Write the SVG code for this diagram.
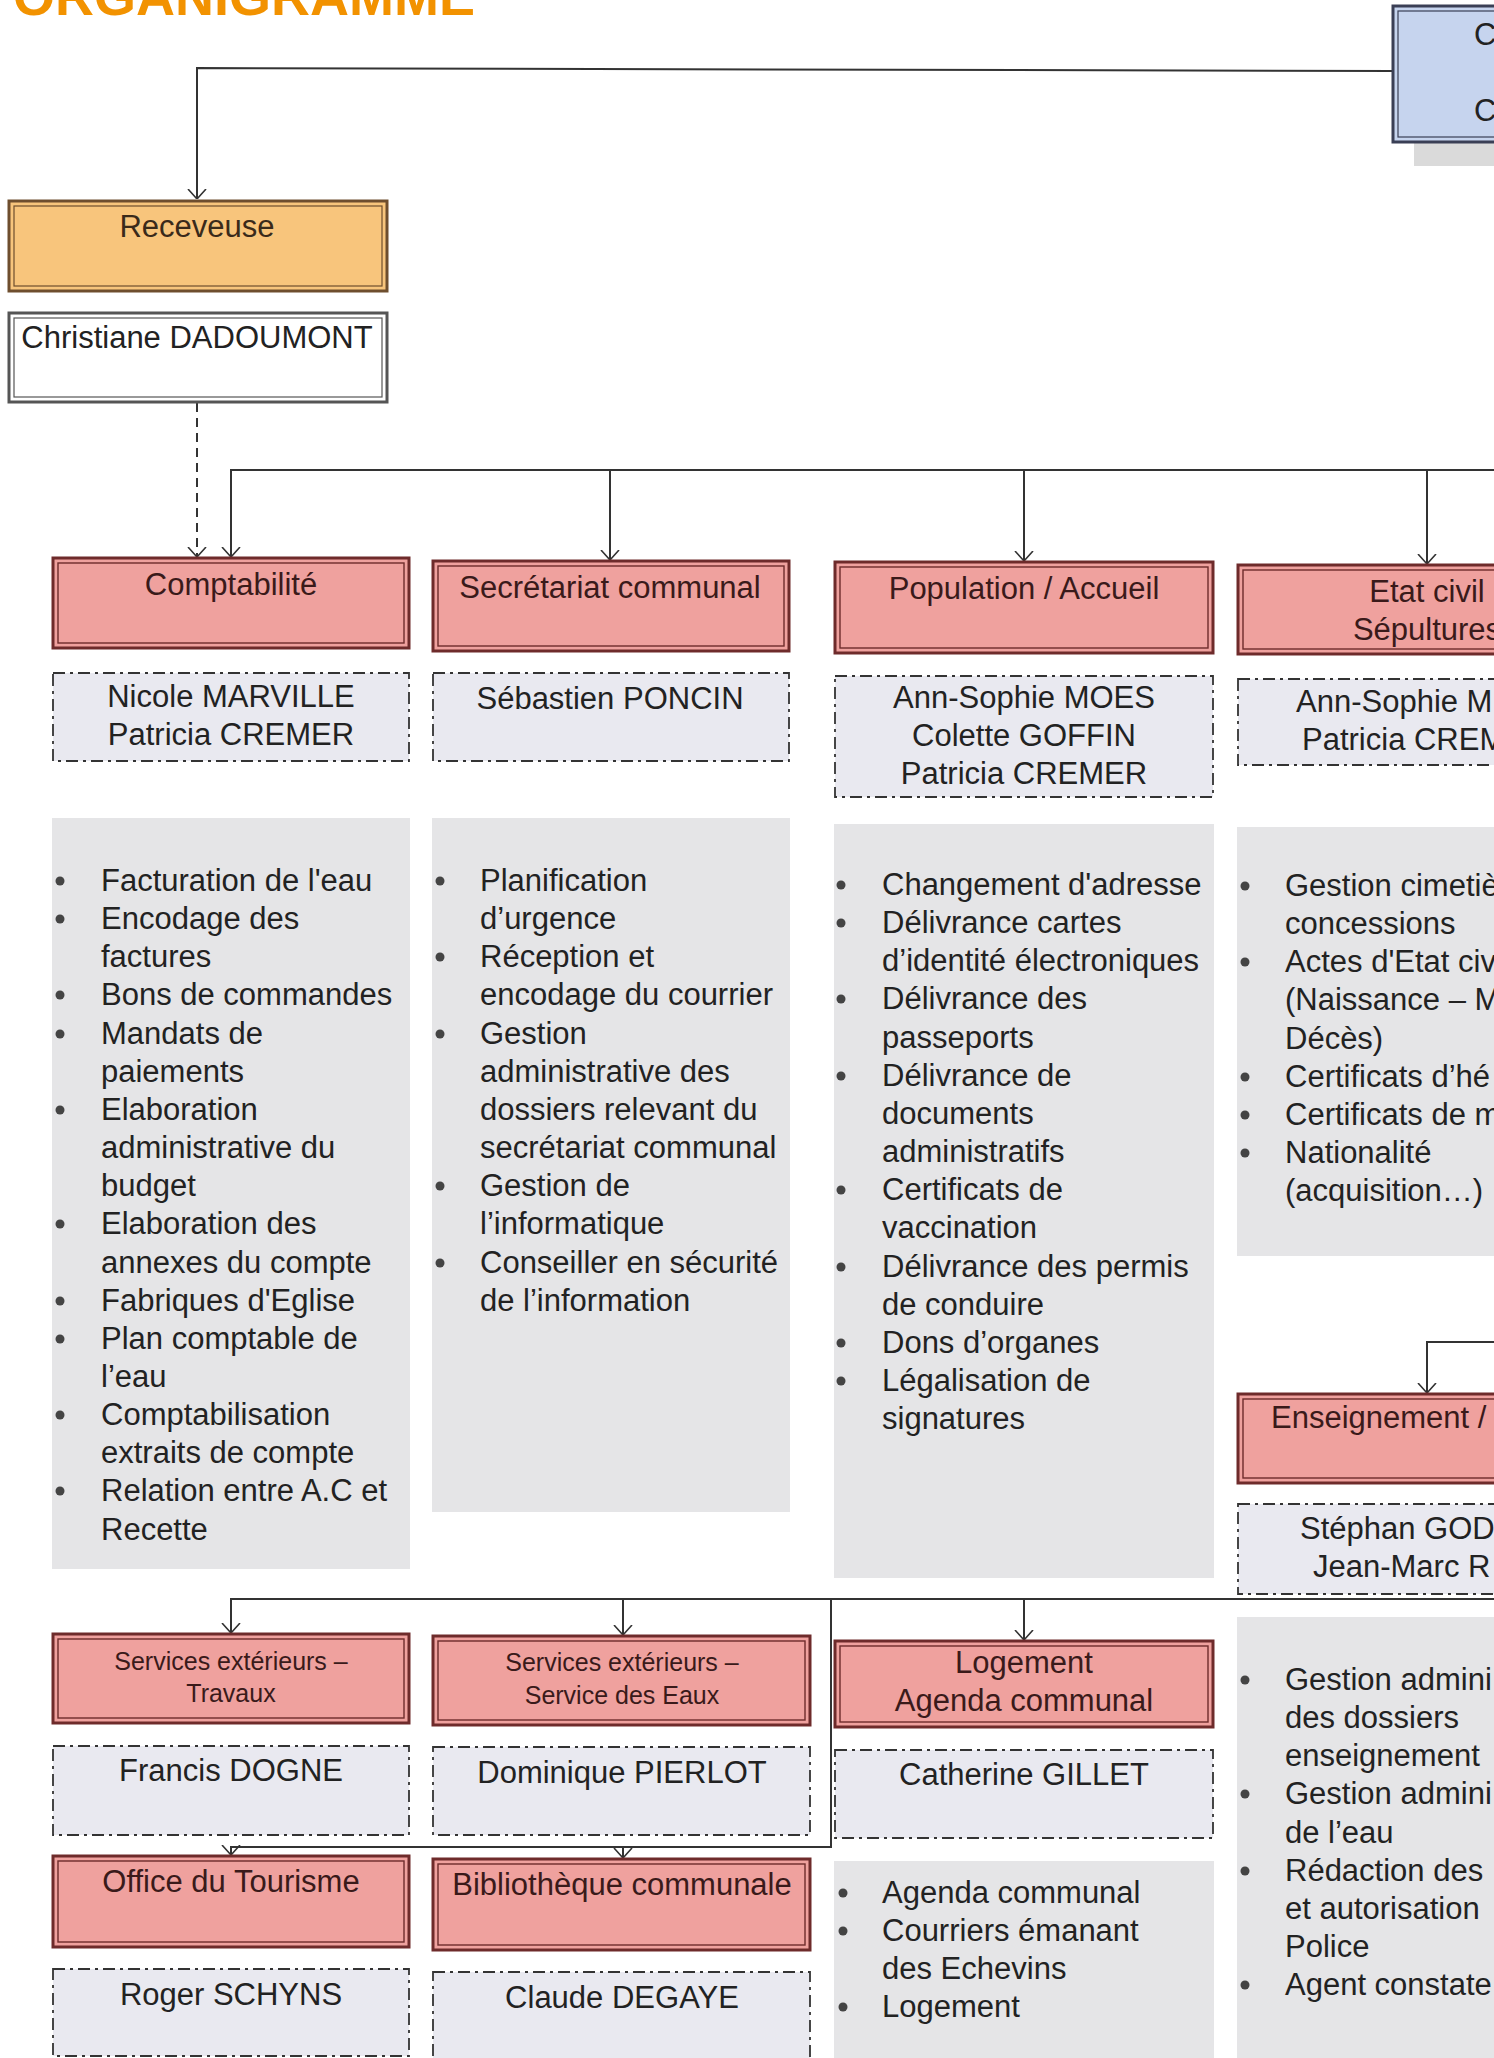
<svg xmlns="http://www.w3.org/2000/svg" width="1494" height="2058" viewBox="0 0 1494 2058">
<defs>
<marker id="arr" viewBox="0 0 10 20" markerWidth="10" markerHeight="20" refX="10" refY="10" orient="auto" markerUnits="userSpaceOnUse">
<path d="M0,1 L10,10 L0,19" fill="none" stroke="#333" stroke-width="1.6"/>
</marker>
<style>
.t{font-family:"Liberation Sans",Arial,sans-serif;fill:#222}
.c{text-anchor:middle}
.h{font-size:31px;fill:#3a1a1a}
.n{font-size:31px}
.l{font-size:31px}
.s{font-size:25px;fill:#3a1a1a}
.ho{fill:#EFA19E;stroke:#6E2B2B;stroke-width:3}
.hi{fill:none;stroke:#6E2B2B;stroke-width:1.4}
.nb{fill:#E9E9F0;stroke:#333;stroke-width:1.8;stroke-dasharray:12 5 3 5}
.lp{fill:#E5E5E7}
.bu{fill:#444}
.cn{fill:none;stroke:#333;stroke-width:2}
</style>
</defs>
<rect width="1494" height="2058" fill="#fff"/>
<text x="13" y="15" style="font-family:'Liberation Sans',Arial,sans-serif;font-weight:bold;font-size:54px;fill:#F29200">ORGANIGRAMME</text>

<g id="connectors">
<polyline class="cn" points="1394,71 197,68 197,199" marker-end="url(#arr)"/>
<line class="cn" x1="197" y1="403" x2="197" y2="557" stroke-dasharray="9 6" marker-end="url(#arr)"/>
<polyline class="cn" points="1494,470 231,470 231,557" marker-end="url(#arr)"/>
<line class="cn" x1="610" y1="470" x2="610" y2="560" marker-end="url(#arr)"/>
<line class="cn" x1="1024" y1="470" x2="1024" y2="561" marker-end="url(#arr)"/>
<line class="cn" x1="1427" y1="470" x2="1427" y2="564" marker-end="url(#arr)"/>
<polyline class="cn" points="1494,1342 1427,1342 1427,1393" marker-end="url(#arr)"/>
<polyline class="cn" points="1494,1599 231,1599 231,1633" marker-end="url(#arr)"/>
<line class="cn" x1="623" y1="1599" x2="623" y2="1635" marker-end="url(#arr)"/>
<line class="cn" x1="1024" y1="1599" x2="1024" y2="1640" marker-end="url(#arr)"/>
<polyline class="cn" points="831,1599 831,1847 231,1847 231,1855" marker-end="url(#arr)"/>
<line class="cn" x1="623" y1="1847" x2="623" y2="1858" marker-end="url(#arr)"/>
</g>

<g id="college">
<rect x="1414" y="28" width="90" height="138" fill="#DADADA"/>
<rect x="1393" y="6" width="110" height="136" fill="#C6D4EE" stroke="#3A3F55" stroke-width="3"/>
<rect x="1398" y="11" width="100" height="126" fill="none" stroke="#3A3F55" stroke-width="1.2"/>
<text class="t n" x="1474" y="45">C</text>
<text class="t n" x="1474" y="121">C</text>
</g>

<g id="receveuse">
<rect x="9" y="201" width="378" height="90" fill="#F8C57C" stroke="#6E4E2E" stroke-width="3"/>
<rect x="14" y="206" width="368" height="80" fill="none" stroke="#6E4E2E" stroke-width="1.2"/>
<text class="t h c" x="197" y="237" style="fill:#3a2a1a">Receveuse</text>
</g>
<g id="receveuse-nom">
<rect x="9" y="313" width="378" height="89" fill="#fff" stroke="#555" stroke-width="3"/>
<rect x="14" y="318" width="368" height="79" fill="none" stroke="#555" stroke-width="1.2"/>
<text class="t n c" x="197" y="348">Christiane DADOUMONT</text>
</g>

<g id="comptabilite">
<rect class="ho" x="53" y="558" width="356" height="90"/>
<rect class="hi" x="58" y="563" width="346" height="80"/>
<text class="t h c" x="231" y="595">Comptabilité</text>
<rect class="nb" x="53" y="673" width="356" height="88"/>
<text class="t n c" x="231" y="707">Nicole MARVILLE</text>
<text class="t n c" x="231" y="745">Patricia CREMER</text>
<rect class="lp" x="52" y="818" width="358" height="751"/>
<g class="t l">
<text x="101" y="891">Facturation de l'eau</text>
<text x="101" y="929">Encodage des</text>
<text x="101" y="967">factures</text>
<text x="101" y="1005">Bons de commandes</text>
<text x="101" y="1044">Mandats de</text>
<text x="101" y="1082">paiements</text>
<text x="101" y="1120">Elaboration</text>
<text x="101" y="1158">administrative du</text>
<text x="101" y="1196">budget</text>
<text x="101" y="1234">Elaboration des</text>
<text x="101" y="1273">annexes du compte</text>
<text x="101" y="1311">Fabriques d'Eglise</text>
<text x="101" y="1349">Plan comptable de</text>
<text x="101" y="1387">l’eau</text>
<text x="101" y="1425">Comptabilisation</text>
<text x="101" y="1463">extraits de compte</text>
<text x="101" y="1501">Relation entre A.C et</text>
<text x="101" y="1540">Recette</text>
</g>
<g class="bu">
<circle cx="60" cy="881" r="4.5"/><circle cx="60" cy="919" r="4.5"/><circle cx="60" cy="995" r="4.5"/><circle cx="60" cy="1034" r="4.5"/><circle cx="60" cy="1110" r="4.5"/><circle cx="60" cy="1224" r="4.5"/><circle cx="60" cy="1301" r="4.5"/><circle cx="60" cy="1339" r="4.5"/><circle cx="60" cy="1415" r="4.5"/><circle cx="60" cy="1491" r="4.5"/>
</g>
</g>

<g id="secretariat">
<rect class="ho" x="433" y="561" width="356" height="90"/>
<rect class="hi" x="438" y="566" width="346" height="80"/>
<text class="t h c" x="610" y="598">Secrétariat communal</text>
<rect class="nb" x="433" y="673" width="356" height="88"/>
<text class="t n c" x="610" y="709">Sébastien PONCIN</text>
<rect class="lp" x="432" y="818" width="358" height="694"/>
<g class="t l">
<text x="480" y="891">Planification</text>
<text x="480" y="929">d’urgence</text>
<text x="480" y="967">Réception et</text>
<text x="480" y="1005">encodage du courrier</text>
<text x="480" y="1044">Gestion</text>
<text x="480" y="1082">administrative des</text>
<text x="480" y="1120">dossiers relevant du</text>
<text x="480" y="1158">secrétariat communal</text>
<text x="480" y="1196">Gestion de</text>
<text x="480" y="1234">l’informatique</text>
<text x="480" y="1273">Conseiller en sécurité</text>
<text x="480" y="1311">de l’information</text>
</g>
<g class="bu">
<circle cx="440" cy="881" r="4.5"/><circle cx="440" cy="957" r="4.5"/><circle cx="440" cy="1034" r="4.5"/><circle cx="440" cy="1186" r="4.5"/><circle cx="440" cy="1263" r="4.5"/>
</g>
</g>

<g id="population">
<rect class="ho" x="835" y="562" width="378" height="91"/>
<rect class="hi" x="840" y="567" width="368" height="81"/>
<text class="t h c" x="1024" y="599">Population / Accueil</text>
<rect class="nb" x="835" y="676" width="378" height="121"/>
<text class="t n c" x="1024" y="708">Ann-Sophie MOES</text>
<text class="t n c" x="1024" y="746">Colette GOFFIN</text>
<text class="t n c" x="1024" y="784">Patricia CREMER</text>
<rect class="lp" x="834" y="824" width="380" height="754"/>
<g class="t l">
<text x="882" y="895">Changement d'adresse</text>
<text x="882" y="933">Délivrance cartes</text>
<text x="882" y="971">d’identité électroniques</text>
<text x="882" y="1009">Délivrance des</text>
<text x="882" y="1048">passeports</text>
<text x="882" y="1086">Délivrance de</text>
<text x="882" y="1124">documents</text>
<text x="882" y="1162">administratifs</text>
<text x="882" y="1200">Certificats de</text>
<text x="882" y="1238">vaccination</text>
<text x="882" y="1277">Délivrance des permis</text>
<text x="882" y="1315">de conduire</text>
<text x="882" y="1353">Dons d’organes</text>
<text x="882" y="1391">Légalisation de</text>
<text x="882" y="1429">signatures</text>
</g>
<g class="bu">
<circle cx="841" cy="885" r="4.5"/><circle cx="841" cy="923" r="4.5"/><circle cx="841" cy="999" r="4.5"/><circle cx="841" cy="1076" r="4.5"/><circle cx="841" cy="1190" r="4.5"/><circle cx="841" cy="1267" r="4.5"/><circle cx="841" cy="1343" r="4.5"/><circle cx="841" cy="1381" r="4.5"/>
</g>
</g>

<g id="etat-civil">
<rect class="ho" x="1238" y="565" width="270" height="89"/>
<rect class="hi" x="1243" y="570" width="260" height="79"/>
<text class="t h c" x="1427" y="602">Etat civil</text>
<text class="t h c" x="1427" y="640">Sépultures</text>
<rect class="nb" x="1238" y="679" width="270" height="86"/>
<text class="t n" x="1296" y="712">Ann-Sophie M</text>
<text class="t n" x="1302" y="750">Patricia CREM</text>
<rect class="lp" x="1237" y="827" width="257" height="429"/>
<g class="t l">
<text x="1285" y="896">Gestion cimetiè</text>
<text x="1285" y="934">concessions</text>
<text x="1285" y="972">Actes d'Etat civ</text>
<text x="1285" y="1010">(Naissance – M</text>
<text x="1285" y="1049">Décès)</text>
<text x="1285" y="1087">Certificats d’hé</text>
<text x="1285" y="1125">Certificats de m</text>
<text x="1285" y="1163">Nationalité</text>
<text x="1285" y="1201">(acquisition…)</text>
</g>
<g class="bu">
<circle cx="1245" cy="886" r="4.5"/><circle cx="1245" cy="962" r="4.5"/><circle cx="1245" cy="1077" r="4.5"/><circle cx="1245" cy="1115" r="4.5"/><circle cx="1245" cy="1153" r="4.5"/>
</g>
</g>

<g id="enseignement">
<rect class="ho" x="1238" y="1394" width="270" height="89"/>
<rect class="hi" x="1243" y="1399" width="260" height="79"/>
<text class="t h" x="1271" y="1428">Enseignement /</text>
<rect class="nb" x="1238" y="1504" width="270" height="90"/>
<text class="t n" x="1300" y="1539">Stéphan GOD</text>
<text class="t n" x="1313" y="1577">Jean-Marc R</text>
<rect class="lp" x="1237" y="1617" width="257" height="441"/>
<g class="t l">
<text x="1285" y="1690">Gestion admini</text>
<text x="1285" y="1728">des dossiers</text>
<text x="1285" y="1766">enseignement</text>
<text x="1285" y="1804">Gestion admini</text>
<text x="1285" y="1843">de l’eau</text>
<text x="1285" y="1881">Rédaction des</text>
<text x="1285" y="1919">et autorisation</text>
<text x="1285" y="1957">Police</text>
<text x="1285" y="1995">Agent constate</text>
</g>
<g class="bu">
<circle cx="1245" cy="1680" r="4.5"/><circle cx="1245" cy="1794" r="4.5"/><circle cx="1245" cy="1871" r="4.5"/><circle cx="1245" cy="1985" r="4.5"/>
</g>
</g>

<g id="travaux">
<rect class="ho" x="53" y="1634" width="356" height="89"/>
<rect class="hi" x="58" y="1639" width="346" height="79"/>
<text class="t s c" x="231" y="1670">Services extérieurs –</text>
<text class="t s c" x="231" y="1702">Travaux</text>
<rect class="nb" x="53" y="1746" width="356" height="89"/>
<text class="t n c" x="231" y="1781">Francis DOGNE</text>
</g>

<g id="eaux">
<rect class="ho" x="433" y="1636" width="377" height="89"/>
<rect class="hi" x="438" y="1641" width="367" height="79"/>
<text class="t s c" x="622" y="1671">Services extérieurs –</text>
<text class="t s c" x="622" y="1704">Service des Eaux</text>
<rect class="nb" x="433" y="1747" width="377" height="88"/>
<text class="t n c" x="622" y="1783">Dominique PIERLOT</text>
</g>

<g id="logement">
<rect class="ho" x="835" y="1641" width="378" height="86"/>
<rect class="hi" x="840" y="1646" width="368" height="76"/>
<text class="t h c" x="1024" y="1673">Logement</text>
<text class="t h c" x="1024" y="1711">Agenda communal</text>
<rect class="nb" x="835" y="1750" width="378" height="88"/>
<text class="t n c" x="1024" y="1785">Catherine GILLET</text>
<rect class="lp" x="834" y="1861" width="380" height="197"/>
<g class="t l">
<text x="882" y="1903">Agenda communal</text>
<text x="882" y="1941">Courriers émanant</text>
<text x="882" y="1979">des Echevins</text>
<text x="882" y="2017">Logement</text>
</g>
<g class="bu">
<circle cx="843" cy="1893" r="4.5"/><circle cx="843" cy="1931" r="4.5"/><circle cx="843" cy="2007" r="4.5"/>
</g>
</g>

<g id="tourisme">
<rect class="ho" x="53" y="1856" width="356" height="91"/>
<rect class="hi" x="58" y="1861" width="346" height="81"/>
<text class="t h c" x="231" y="1892">Office du Tourisme</text>
<rect class="nb" x="53" y="1969" width="356" height="87"/>
<text class="t n c" x="231" y="2005">Roger SCHYNS</text>
</g>

<g id="bibliotheque">
<rect class="ho" x="433" y="1859" width="377" height="91"/>
<rect class="hi" x="438" y="1864" width="367" height="81"/>
<text class="t h c" x="622" y="1895">Bibliothèque communale</text>
<rect class="nb" x="433" y="1972" width="377" height="90"/>
<text class="t n c" x="622" y="2008">Claude DEGAYE</text>
</g>
</svg>
